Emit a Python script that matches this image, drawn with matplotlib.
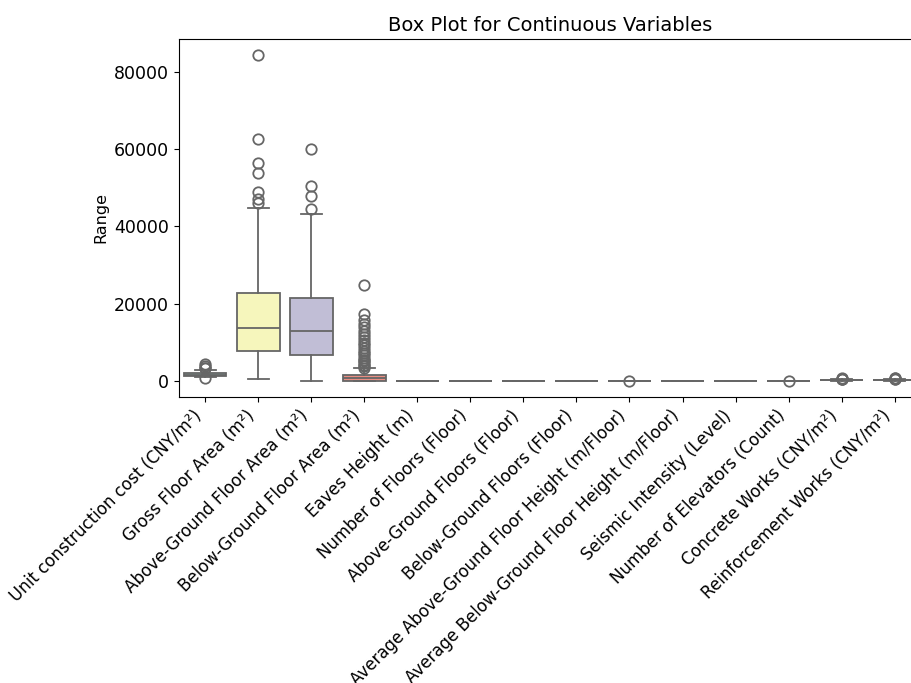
import matplotlib
matplotlib.use('Agg')
import matplotlib.pyplot as plt
import seaborn as sns

# variables shown on the x axis
labels = ['Unit construction cost (CNY/m²)', 'Gross Floor Area (m²)',
          'Above-Ground Floor Area (m²)', 'Below-Ground Floor Area (m²)',
          'Eaves Height (m)', 'Number of Floors (Floor)',
          'Above-Ground Floors (Floor)', 'Below-Ground Floors (Floor)',
          'Average Above-Ground Floor Height (m/Floor)',
          'Average Below-Ground Floor Height (m/Floor)',
          'Seismic Intensity (Level)', 'Number of Elevators (Count)',
          'Concrete Works (CNY/m²)', 'Reinforcement Works (CNY/m²)']

# box summary
whislo = [900, 500, 0, 0, 8, 1, 1, 0, 3.0, 0, 6, 0, 20, 30]
q1 = [1200, 7800, 6600, 0, 15, 3, 3, 0, 3.6, 3.0, 7, 1, 100, 120]
med = [1500, 13700, 13000, 700, 20, 5, 5, 1, 4.0, 4.0, 7, 2, 160, 180]
q3 = [1900, 22800, 21400, 1450, 25, 10, 9, 1, 4.5, 4.5, 8, 4, 220, 250]
whishi = [2900, 44800, 43100, 3200, 40, 20, 18, 2, 5.8, 6.0, 8, 8, 350, 400]
fliers = [
    [4300, 3900, 3400, 3200, 600],
    [84300, 62500, 56300, 53800, 48900, 47000, 46100],
    [59900, 50400, 47800, 44600],
    [24700, 17400, 15700, 14600, 13900, 13000, 12200, 11400, 10600, 9900,
     9200, 8500, 7800, 7200, 6600, 6000, 5500, 5000, 4500, 4100, 3700, 3400],
    [], [], [], [],
    [12.0],
    [], [],
    [20],
    [420, 480, 540, 600],
    [470, 530, 600, 660],
]

stats = []
for i in range(len(labels)):
    stats.append({'whislo': whislo[i], 'q1': q1[i], 'med': med[i], 'q3': q3[i],
                  'whishi': whishi[i], 'fliers': fliers[i]})

colors = sns.color_palette('Set3', len(labels), desat=0.75)
line_color = '#666666'
lw = 1.3

fig = plt.figure(figsize=(9.12, 6.83), dpi=100)
ax = fig.add_axes([0.196, 0.4187, 0.814, 0.5243])

bp = ax.bxp(stats, positions=range(len(labels)), widths=0.8, patch_artist=True,
            boxprops=dict(edgecolor=line_color, linewidth=lw),
            medianprops=dict(color=line_color, linewidth=lw),
            whiskerprops=dict(color=line_color, linewidth=lw),
            capprops=dict(color=line_color, linewidth=lw),
            flierprops=dict(marker='o', markerfacecolor='none',
                            markeredgecolor=line_color, markersize=7.5,
                            markeredgewidth=lw))
for patch, c in zip(bp['boxes'], colors):
    patch.set_facecolor(c)

ax.set_xlim(-0.5, len(labels) - 0.5)
ax.set_xticks(range(len(labels)))
ax.set_xticklabels(labels, rotation=45, ha='right', fontsize=12)
ax.tick_params(axis='y', labelsize=12.5)
ax.set_ylabel('Range', fontsize=11.5)
ax.set_title('Box Plot for Continuous Variables', fontsize=14)

fig.savefig('out.png', dpi=100)
